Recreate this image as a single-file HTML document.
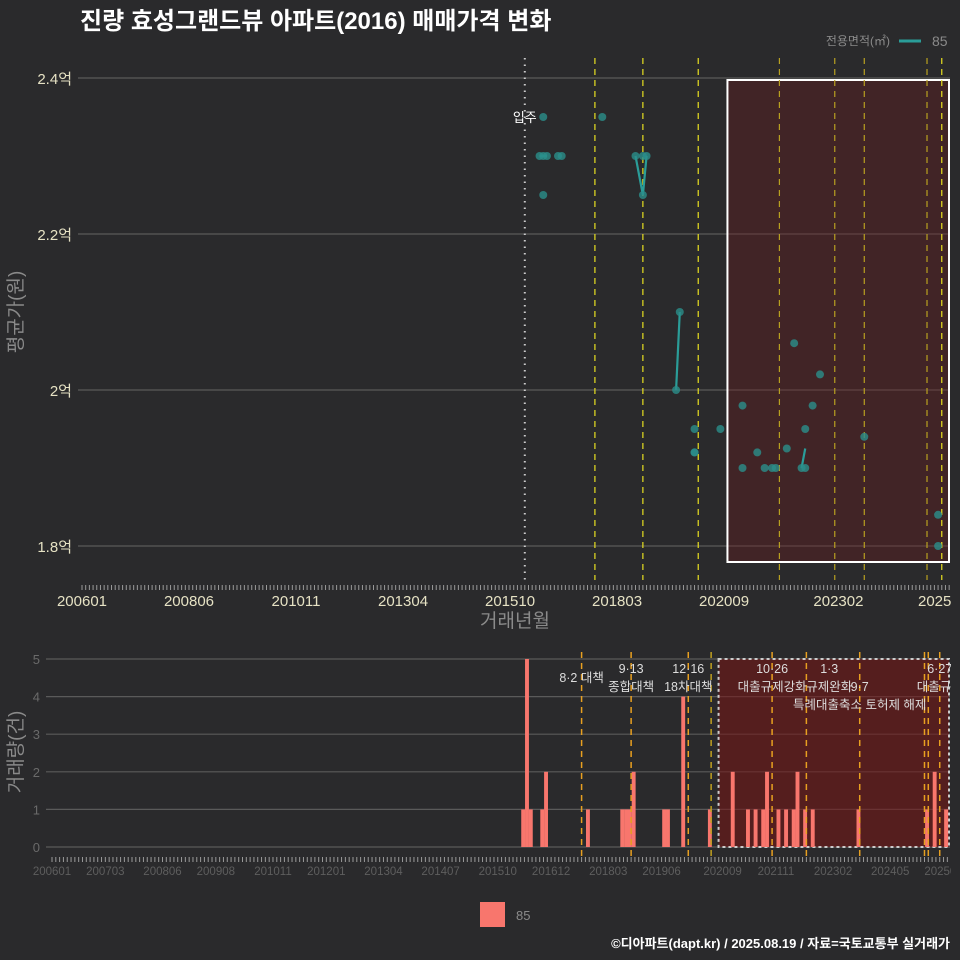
<!DOCTYPE html>
<html><head><meta charset="utf-8">
<style>
html,body{margin:0;padding:0;background:#2a2a2c;}
svg{display:block;font-family:"Liberation Sans","Noto Sans CJK KR",sans-serif;}
</style></head>
<body>
<svg id="chart" width="960" height="960" viewBox="0 0 960 960" xmlns="http://www.w3.org/2000/svg">
<rect x="0" y="0" width="960" height="960" fill="#2a2a2c"/>
<text x="80" y="29" fill="#ffffff" font-size="24" font-weight="bold">진량 효성그랜드뷰 아파트(2016) 매매가격 변화</text>
<g>
<text x="890" y="45" fill="#8a8a8a" font-size="12" text-anchor="end">전용면적(㎡)</text>
<line x1="899" y1="41" x2="921" y2="41" stroke="#2a9d99" stroke-width="3"/>
<text x="932" y="46" fill="#8a8a8a" font-size="14">85</text>
</g>
<g id="topchart"></g>
<g id="botchart"></g>
<g>
<rect x="480" y="902" width="25" height="25" fill="#f8766d"/>
<text x="516" y="920" fill="#8a8a8a" font-size="13">85</text>
</g>
<text x="950" y="948" fill="#ffffff" font-size="13" font-weight="bold" text-anchor="end">©디아파트(dapt.kr) / 2025.08.19 / 자료=국토교통부 실거래가</text>
</svg>
<script>
// ---- data (month index from 200601) ----
const pointMonths = [124,125,125,125,126,129,130,141,150,152,152,153,161,162,166,166,166,173,179,179,183,185,187,188,191,193,195,196,196,198,200,212,232,232];
const pointPrices = [2.30,2.35,2.30,2.25,2.30,2.30,2.30,2.35,2.30,2.30,2.25,2.30,2.00,2.10,1.95,1.92,1.92,1.95,1.98,1.90,1.92,1.90,1.90,1.90,1.925,2.06,1.90,1.95,1.90,1.98,2.02,1.94,1.84,1.80];
const lineMonths = [124,125,126,null,150,152,153,null,161,162,null,195,196];
const linePrices = [2.30,2.30,2.30,null,2.30,2.25,2.30,null,2.00,2.10,null,1.90,1.925];
const priceTicks = [1.8,2.0,2.2,2.4];
const priceTickLabels = ["1.8억","2억","2.2억","2.4억"];
const topXTicks = [0,29,58,87,116,145,174,205];
const topXTickLabels = ["200601","200806","201011","201304","201510","201803","202009","202302"];
const topPolicyMonths = [139,152,167,189,204,212,229,233];
const moveInMonth = 120;
const volMonths = [123,124,125,128,129,140,149,150,151,152,160,161,165,172,178,182,184,186,187,190,192,194,195,197,199,211,229,231,234];
const volCounts = [1,5,1,1,2,1,1,1,1,2,1,1,4,1,2,1,1,1,2,1,1,1,2,1,1,1,1,2,1];
const volTicks = [0,1,2,3,4,5];
const botXTicks = [0,14,29,43,58,72,87,102,117,131,146,160,176,190,205,220,234];
const botXTickLabels = ["200601","200703","200806","200908","201011","201201","201304","201407","201510","201612","201803","201906","202009","202111","202302","202405","202507"];
const botPolicyMonths = [139,152,167,173,189,198,212,229,230,233];
const policyLabels = [
 {m:139,t:"8·2 대책",row:0.5},{m:152,t:"9·13",row:0},{m:152,t:"종합대책",row:1},
 {m:167,t:"12·16",row:0},{m:167,t:"18차대책",row:1},{m:189,t:"10·26",row:0},{m:189,t:"대출규제강화",row:1},
 {m:204,t:"1·3",row:0},{m:204,t:"규제완화",row:1},{m:212,t:"9·7",row:1},{m:212,t:"특례대출축소 토허제 해제",row:2},
 {m:233,t:"6·27",row:0},{m:233,t:"대출규제",row:1}];
const shadeStart = 176, shadeEnd = 234;

const NS="http://www.w3.org/2000/svg";
function mk(parent,tag,attrs){const e=document.createElementNS(NS,tag);for(const k in attrs)e.setAttribute(k,attrs[k]);parent.appendChild(e);return e;}

// ---- top chart ----
const topG=document.getElementById('topchart');
const tx=m=>82+m*3.69;
const ty=v=>390-(v-2.0)*780;
priceTicks.forEach((v,i)=>{
 const g=mk(topG,'line',{x1:78,x2:950,y1:ty(v),y2:ty(v),stroke:'#5a5a5a','stroke-width':1.2});
 
 const t=mk(topG,'text',{x:72,y:ty(v)+6,fill:'#e6e2c4','font-size':15,'text-anchor':'end'});
 t.textContent=priceTickLabels[i];
 
});
const rect=mk(topG,'rect',{x:tx(shadeStart)-4,y:80,width:949-tx(shadeStart)+4,height:482,fill:'rgba(110,25,30,0.35)',stroke:'#ffffff','stroke-width':2});

for(let m=0;m<=235;m++){
 const l=mk(topG,'line',{x1:tx(m),x2:tx(m),y1:585,y2:590,stroke:'#9a9a9a','stroke-width':1});
 
}
topXTicks.forEach((m,i)=>{
 const t=mk(topG,'text',{x:tx(m),y:606,fill:'#e6e2c4','font-size':15,'text-anchor':'middle'});
 t.textContent=topXTickLabels[i];
 
});
const lastT=mk(topG,'text',{x:918,y:606,fill:'#e6e2c4','font-size':15});
lastT.textContent='2025';

const mv=mk(topG,'line',{x1:tx(moveInMonth),x2:tx(moveInMonth),y1:58,y2:580,stroke:'#cccccc','stroke-width':2,'stroke-dasharray':'1.5 5'});

const mvt=mk(topG,'text',{x:tx(moveInMonth),y:122,fill:'#ffffff','font-size':13,'text-anchor':'middle'});
mvt.textContent='입주';

topPolicyMonths.forEach((m,i)=>{
 const l=mk(topG,'line',{x1:tx(m),x2:tx(m),y1:58,y2:580,stroke:i>=3&&i<7?'#b8a020':'#e8e020','stroke-width':1.2,'stroke-dasharray':'6 5'});
 
});
let d='';let pen=false;
lineMonths.forEach((m,i)=>{if(m===null){pen=false;return;}d+=(pen?'L':'M')+tx(m)+' '+ty(linePrices[i])+' ';pen=true;});
const pl=mk(topG,'path',{d:d,fill:'none',stroke:'#2a9d99','stroke-width':2.2});

pointMonths.forEach((m,i)=>{
 const c=mk(topG,'circle',{cx:tx(m),cy:ty(pointPrices[i]),r:4,fill:'#2a8f8b','fill-opacity':0.8});
 
});
const yt=mk(topG,'text',{x:0,y:0,fill:'#8a8a8a','font-size':19,'text-anchor':'middle',transform:'translate(22,312) rotate(-90)'});
yt.textContent='평균가(원)';

const xt=mk(topG,'text',{x:515,y:627,fill:'#8a8a8a','font-size':19,'text-anchor':'middle'});
xt.textContent='거래년월';


// ---- bottom chart ----
const botG=document.getElementById('botchart');
const bx=m=>52+m*3.81;
const by=v=>847-v*37.6;
volTicks.forEach(v=>{
 const g=mk(botG,'line',{x1:46,x2:950,y1:by(v),y2:by(v),stroke:'#5a5a5a','stroke-width':1.2});
 
 const t=mk(botG,'text',{x:40,y:by(v)+5,fill:'#6a6a6a','font-size':13,'text-anchor':'end'});
 t.textContent=String(v);
 
});
const br=mk(botG,'rect',{x:bx(shadeStart)-4,y:659,width:950-bx(shadeStart)+3,height:188,fill:'rgba(120,20,20,0.55)',stroke:'#cccccc','stroke-width':2,'stroke-dasharray':'3 3'});

volMonths.forEach((m,i)=>{
 const r=mk(botG,'rect',{x:bx(m)+0.6,y:by(volCounts[i]),width:3.9,height:volCounts[i]*37.6,fill:'#f8766d'});
 
});
botPolicyMonths.forEach((m,i)=>{
 const l=mk(botG,'line',{x1:bx(m),x2:bx(m),y1:652,y2:858,stroke:i===3?'#c0a020':'#e8a020','stroke-width':1.5,'stroke-dasharray':'6 5'});
 
});
policyLabels.forEach(p=>{
 const t=mk(botG,'text',{x:bx(p.m),y:673+p.row*18,fill:'#dddddd','font-size':12.5,'text-anchor':'middle'});
 t.textContent=p.t;
 
});
for(let m=0;m<=235;m++){
 const l=mk(botG,'line',{x1:bx(m),x2:bx(m),y1:857,y2:862,stroke:'#9a9a9a','stroke-width':1});
 
}
botXTicks.forEach((m,i)=>{
 const t=mk(botG,'text',{x:bx(m),y:875,fill:'#5e5e5e','font-size':11.5,'text-anchor':'middle'});
 t.textContent=botXTickLabels[i];
 
});
const cover=mk(botG,'rect',{x:951,y:640,width:9,height:240,fill:'#2a2a2c'});

const vt=mk(botG,'text',{x:0,y:0,fill:'#8a8a8a','font-size':19,'text-anchor':'middle',transform:'translate(22,752) rotate(-90)'});
vt.textContent='거래량(건)';

</script>
</body></html>
